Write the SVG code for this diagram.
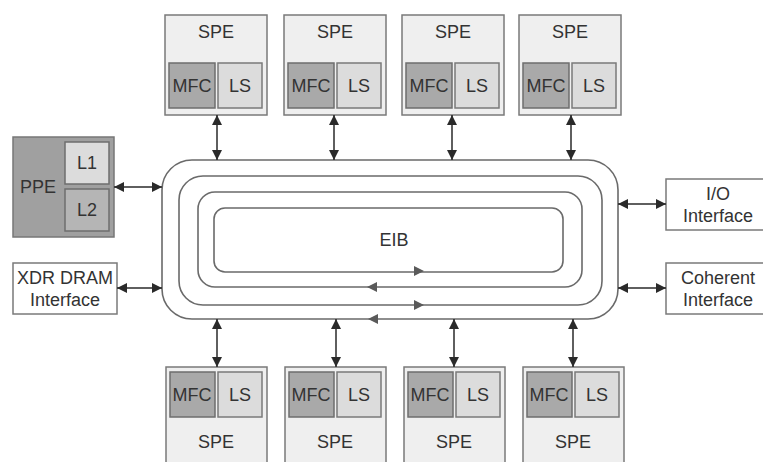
<svg xmlns="http://www.w3.org/2000/svg" width="763" height="462" viewBox="0 0 763 462">
<defs>
<style>
text{font-family:"Liberation Sans",Arial,sans-serif;font-size:18px;fill:#333;text-anchor:middle}
.spe{fill:#efefef;stroke:#7a7a7a;stroke-width:1.5}
.mfc{fill:#a9a9a9;stroke:#6e6e6e;stroke-width:1.5}
.ls{fill:#dcdcdc;stroke:#7a7a7a;stroke-width:1.5}
.box{fill:#fff;stroke:#7a7a7a;stroke-width:1.5}
.ring{fill:none;stroke:#6a6a6a;stroke-width:1.6}
.conn{stroke:#2a2a2a;stroke-width:1.5;fill:none;marker-start:url(#ah);marker-end:url(#ah)}
.rh{fill:#5a5a5a}
</style>
<marker id="ah" viewBox="0 0 10 10" refX="10" refY="5" markerWidth="10" markerHeight="10" markerUnits="userSpaceOnUse" orient="auto-start-reverse">
<path d="M0,0 L10,5 L0,10 z" fill="#2a2a2a"/>
</marker>
</defs>
<rect width="763" height="462" fill="#fff"/>

<g id="eib">
<rect class="ring" x="162" y="160" width="456" height="159" rx="30"/>
<rect class="ring" x="179" y="176" width="423" height="129" rx="24"/>
<rect class="ring" x="198" y="192" width="384" height="95" rx="17"/>
<rect class="ring" x="214" y="208" width="349" height="64" rx="11"/>
<polygon class="rh" points="424,271 414,266 414,276"/>
<polygon class="rh" points="367,287 377,282 377,292"/>
<polygon class="rh" points="424,305 414,300 414,310"/>
<polygon class="rh" points="368,319 378,314 378,324"/>
<text x="394" y="246">EIB</text>
</g>

<g id="spe-t1"><rect class="spe" x="165" y="15" width="102" height="100"/><rect class="mfc" x="169" y="63" width="46" height="45"/><rect class="ls" x="218" y="63" width="44" height="45"/><text x="216" y="38">SPE</text><text x="192" y="92">MFC</text><text x="240" y="92">LS</text></g>
<g id="spe-t2"><rect class="spe" x="284" y="15" width="102" height="100"/><rect class="mfc" x="288" y="63" width="46" height="45"/><rect class="ls" x="337" y="63" width="44" height="45"/><text x="335" y="38">SPE</text><text x="311" y="92">MFC</text><text x="359" y="92">LS</text></g>
<g id="spe-t3"><rect class="spe" x="402" y="15" width="102" height="100"/><rect class="mfc" x="406" y="63" width="46" height="45"/><rect class="ls" x="455" y="63" width="44" height="45"/><text x="453" y="38">SPE</text><text x="429" y="92">MFC</text><text x="477" y="92">LS</text></g>
<g id="spe-t4"><rect class="spe" x="519" y="15" width="102" height="100"/><rect class="mfc" x="523" y="63" width="46" height="45"/><rect class="ls" x="572" y="63" width="44" height="45"/><text x="570" y="38">SPE</text><text x="546" y="92">MFC</text><text x="594" y="92">LS</text></g>

<g id="spe-b1"><rect class="spe" x="166" y="367" width="101" height="103"/><rect class="mfc" x="170" y="372" width="45" height="45"/><rect class="ls" x="218" y="372" width="44" height="45"/><text x="216" y="448">SPE</text><text x="192" y="401">MFC</text><text x="240" y="401">LS</text></g>
<g id="spe-b2"><rect class="spe" x="285" y="367" width="101" height="103"/><rect class="mfc" x="289" y="372" width="45" height="45"/><rect class="ls" x="337" y="372" width="44" height="45"/><text x="335" y="448">SPE</text><text x="311" y="401">MFC</text><text x="359" y="401">LS</text></g>
<g id="spe-b3"><rect class="spe" x="404" y="367" width="101" height="103"/><rect class="mfc" x="408" y="372" width="45" height="45"/><rect class="ls" x="456" y="372" width="44" height="45"/><text x="454" y="448">SPE</text><text x="430" y="401">MFC</text><text x="478" y="401">LS</text></g>
<g id="spe-b4"><rect class="spe" x="523" y="367" width="101" height="103"/><rect class="mfc" x="527" y="372" width="45" height="45"/><rect class="ls" x="575" y="372" width="44" height="45"/><text x="573" y="448">SPE</text><text x="549" y="401">MFC</text><text x="597" y="401">LS</text></g>

<g id="ppe">
<rect x="13" y="137" width="101" height="100" fill="#a0a0a0" stroke="#777" stroke-width="1.5"/>
<rect x="65" y="142" width="44" height="42" fill="#dcdcdc" stroke="#6e6e6e" stroke-width="1.5"/>
<rect x="65" y="189" width="44" height="42" fill="#b5b5b5" stroke="#6e6e6e" stroke-width="1.5"/>
<text x="38" y="193">PPE</text>
<text x="87" y="169">L1</text>
<text x="87" y="216">L2</text>
</g>

<g id="xdr">
<rect class="box" x="13" y="263" width="104" height="51"/>
<text x="65" y="284">XDR DRAM</text>
<text x="65" y="306">Interface</text>
</g>

<g id="io">
<rect class="box" x="666" y="179" width="100" height="51"/>
<text x="718" y="200">I/O</text>
<text x="718" y="222">Interface</text>
</g>

<g id="coherent">
<rect class="box" x="666" y="263" width="100" height="51"/>
<text x="718" y="284">Coherent</text>
<text x="718" y="306">Interface</text>
</g>

<g id="connectors">
<line class="conn" x1="217" y1="115" x2="217" y2="160"/>
<line class="conn" x1="334" y1="115" x2="334" y2="160"/>
<line class="conn" x1="452" y1="115" x2="452" y2="160"/>
<line class="conn" x1="571" y1="115" x2="571" y2="160"/>
<line class="conn" x1="217" y1="319" x2="217" y2="367"/>
<line class="conn" x1="336" y1="319" x2="336" y2="367"/>
<line class="conn" x1="454" y1="319" x2="454" y2="367"/>
<line class="conn" x1="573" y1="319" x2="573" y2="367"/>
<line class="conn" x1="114" y1="187" x2="162" y2="187"/>
<line class="conn" x1="117" y1="288" x2="162" y2="288"/>
<line class="conn" x1="618" y1="204" x2="666" y2="204"/>
<line class="conn" x1="618" y1="288" x2="666" y2="288"/>
</g>
</svg>
